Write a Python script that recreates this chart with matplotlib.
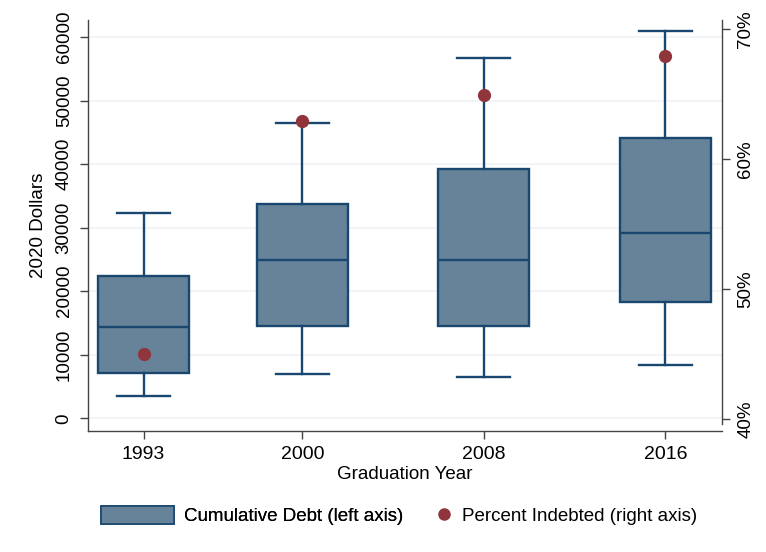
import matplotlib.pyplot as plt
from matplotlib.patches import Patch
from matplotlib.lines import Line2D

plt.rcParams['font.family'] = ['Liberation Sans', 'DejaVu Sans']

# data
years = [1993, 2000, 2008, 2016]
whisker_low = [3500, 6900, 6550, 8350]
q1 = [7200, 14600, 14600, 18300]
median = [14400, 24900, 24900, 29150]
q3 = [22400, 33750, 39300, 44150]
whisker_high = [32250, 46500, 56750, 61000]
pct_indebted = [45.0, 62.9, 64.9, 67.9]

left_ticks = [0, 10000, 20000, 30000, 40000, 50000, 60000]
right_ticks = [40, 50, 60, 70]

navy = '#1a476f'
box_fill = '#66839a'
maroon = '#90353b'
spine_col = '#444444'
grid_col = '#edf2f5'

fig = plt.figure(figsize=(7.66, 5.52), dpi=100)
ax = fig.add_axes([0.1149, 0.2192, 0.8277, 0.7446])
ax2 = ax.twinx()

stats = [dict(med=m, q1=a, q3=b, whislo=lo, whishi=hi, fliers=[])
         for lo, a, m, b, hi in zip(whisker_low, q1, median, q3, whisker_high)]
lw = 1.7
ax.bxp(stats, positions=years, widths=4, capwidths=2.34, patch_artist=True,
       showfliers=False, manage_ticks=False,
       boxprops=dict(facecolor=box_fill, edgecolor=navy, linewidth=lw),
       medianprops=dict(color=navy, linewidth=lw),
       whiskerprops=dict(color=navy, linewidth=lw),
       capprops=dict(color=navy, linewidth=lw))

ax2.plot(years, pct_indebted, 'o', color=maroon, markersize=8.5, linestyle='none')

ax.set_xlim(1990.55, 2018.5)
ax.set_ylim(-2000, 62700)
ax2.set_ylim(39.1, 70.7)

ax.set_xticks(years, [str(y) for y in years], fontsize=14)
ax.set_yticks(left_ticks, [str(t) for t in left_ticks], fontsize=13.5,
              rotation=90, va='center')
ax2.set_yticks(right_ticks, [f'{t}%' for t in right_ticks], fontsize=13.5,
               rotation=90, va='center')

ax.yaxis.grid(True, color=grid_col, linewidth=1.1)
ax.set_axisbelow(True)

for a in (ax, ax2):
    a.spines['top'].set_visible(False)
    a.tick_params(length=6, width=1, color=spine_col, pad=5)
    for s in a.spines.values():
        s.set_color(spine_col)
        s.set_linewidth(1)
ax2.spines['left'].set_visible(False)
ax2.spines['bottom'].set_visible(False)
ax.spines['right'].set_visible(False)
ax2.spines['right'].set_bounds(39.64, 70.7)

ax.set_ylabel('2020 Dollars', fontsize=13.5, labelpad=6)
ax.set_xlabel('Graduation Year', fontsize=13.5, labelpad=2)

# legend below the plot, two pieces so the handles get different widths
leg_y = 0.066
leg1 = fig.legend(handles=[Patch(facecolor=box_fill, edgecolor=navy, linewidth=1.2)],
                  labels=['Cumulative Debt (left axis)'],
                  loc='center left', bbox_to_anchor=(0.1319, leg_y),
                  frameon=False, fontsize=13.5, handlelength=3.9, handleheight=1.1,
                  handletextpad=0.5, borderpad=0, borderaxespad=0)
fig.legend(handles=[Line2D([], [], marker='o', color=maroon, linestyle='none', markersize=8)],
           labels=['Percent Indebted (right axis)'],
           loc='center left', bbox_to_anchor=(0.5674, leg_y),
           frameon=False, fontsize=13.5, handlelength=1.0, handleheight=1.1,
           handletextpad=0.45, borderpad=0, borderaxespad=0)
fig.add_artist(leg1)

fig.savefig('out.png', dpi=100)
